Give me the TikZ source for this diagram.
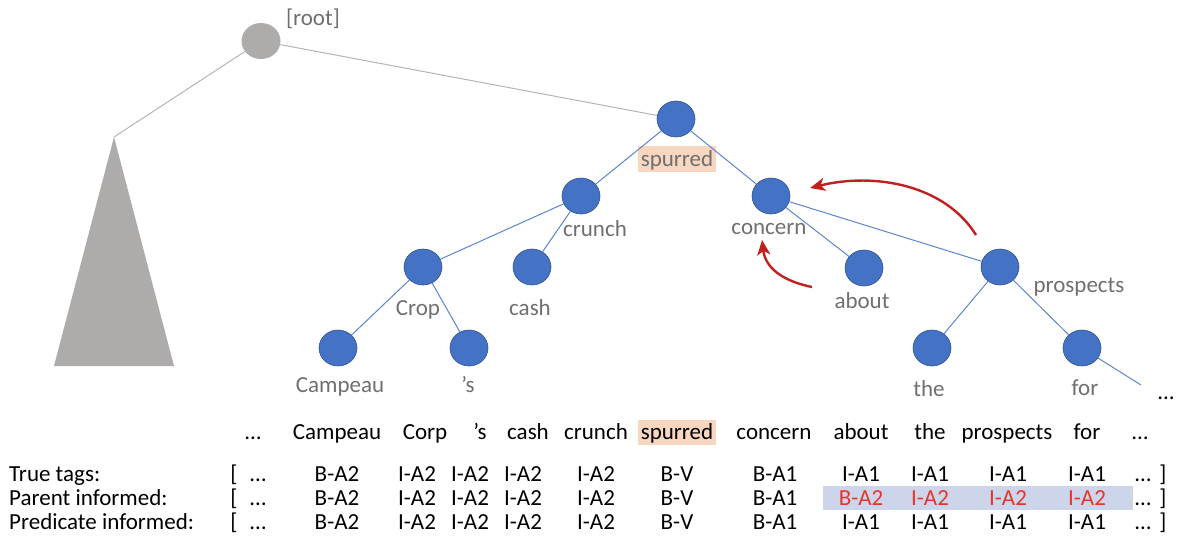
\documentclass[tikz,border=0pt]{standalone}
\usepackage{fontspec}
\setmainfont{Carlito}
\usetikzlibrary{arrows.meta,shapes.geometric}
\newcommand{\myell}{…}
\definecolor{nodeblue}{HTML}{4472C4}
\definecolor{nodeedge}{HTML}{2F528F}
\definecolor{edgeblue}{HTML}{5B85D0}
\definecolor{treegrey}{HTML}{AEABAB}
\definecolor{linegrey}{HTML}{B4B4B4}
\definecolor{labelgrey}{HTML}{6F6F6F}
\definecolor{peach}{HTML}{F8D6C0}
\definecolor{lav}{HTML}{CDD5EA}
\definecolor{arrowred}{HTML}{C0201E}
\definecolor{tagred}{HTML}{E8342C}
\tikzset{
  tnode/.style={ellipse,fill=nodeblue,draw=nodeedge,line width=0.6pt,minimum width=38pt,minimum height=36pt,inner sep=0pt},
  rootnode/.style={ellipse,fill=treegrey,minimum width=39pt,minimum height=36pt,inner sep=0pt},
  tedge/.style={draw=edgeblue,line width=1pt},
  gedge/.style={draw=linegrey,line width=1pt},
  tlabel/.style={text=labelgrey,font=\fontsize{23}{26}\selectfont,inner sep=0pt,text height=19pt,text depth=4pt},
  cell/.style={text=black,font=\fontsize{23}{26}\selectfont,inner sep=0pt,text height=19pt,text depth=4pt},
  redcell/.style={cell,text=tagred},
  redarrow/.style={draw=arrowred,line width=2.4pt,-{Stealth[length=15pt,width=13pt,inset=4pt]}},
}
\begin{document}
\begin{tikzpicture}[x=1pt,y=-1pt]
\useasboundingbox (0,0) rectangle (1178,541);
% highlights
\fill[peach] (638,146) rectangle (716,172);
\fill[peach] (638,420) rectangle (716,445);
\fill[lav] (823,486) rectangle (1133,510);
% left subtree
\fill[treegrey] (114,137) coordinate (apex) -- (174,366) -- (54,366) -- cycle;
% nodes
\node[rootnode] (root) at (261,41) {};
\node[tnode] (spurred) at (676,119) {};
\node[tnode] (crunch) at (581,196) {};
\node[tnode] (concern) at (771,196) {};
\node[tnode] (crop) at (423,267) {};
\node[tnode] (cash) at (532,267) {};
\node[tnode] (about) at (864,268) {};
\node[tnode] (prospects) at (1000,267) {};
\node[tnode] (campeau) at (338,348) {};
\node[tnode] (s) at (469,348) {};
\node[tnode] (the) at (932,348) {};
\node[tnode] (for) at (1082,348) {};
\coordinate (tail) at (1141,385);
% edges
\draw[gedge] (root) -- (apex);
\draw[gedge] (root) -- (spurred);
\draw[tedge] (spurred) -- (crunch);
\draw[tedge] (spurred) -- (concern);
\draw[tedge] (crunch) -- (crop);
\draw[tedge] (crunch) -- (cash);
\draw[tedge] (crop) -- (campeau);
\draw[tedge] (crop) -- (s);
\draw[tedge] (concern) -- (about);
\draw[tedge] (concern) -- (prospects);
\draw[tedge] (prospects) -- (the);
\draw[tedge] (prospects) -- (for);
\draw[tedge] (for) -- (tail);
% labels
\node[tlabel] (lroot) at (313,18) {[root]};
\node[tlabel] (lspurred) at (677,159) {spurred};
\node[tlabel] (lcrunch) at (595,229) {crunch};
\node[tlabel] (lconcern) at (769,227) {concern};
\node[tlabel] (labout) at (862,301) {about};
\node[tlabel] (lprospects) at (1079,285) {prospects};
\node[tlabel] (lcrop) at (418,308) {Crop};
\node[tlabel] (lcash) at (530,308) {cash};
\node[tlabel] (lcampeau) at (340,385) {Campeau};
\node[tlabel] (ls) at (468,385) {’s};
\node[tlabel] (lthe) at (929,389) {the};
\node[tlabel] (lfor) at (1085,388) {for};
\node[cell] (tdots) at (1166,392) {\myell};
% red arrows
\coordinate (a1s) at (976,235);
\coordinate (a1e) at (810,188);
\coordinate (a2s) at (812,287);
\coordinate (a2e) at (762,240);
\draw[redarrow] (a1s) .. controls (945,185) and (875,172) .. (a1e);
\draw[redarrow] (a2s) .. controls (778,280) and (765,265) .. (a2e);
% sentence row
\foreach \x/\w [count=\i] in {253/\myell,337/Campeau,425/Corp,480/’s,528/cash,596/crunch,677/spurred,774/concern,861/about,930/the,1007/prospects,1087/for,1140/\myell}
  \node[cell] (w\i) at (\x,432) {\w};
% row labels
\node[cell,anchor=west] (rt) at (9,474) {True tags:};
\node[cell,anchor=west] (rp) at (9,498) {Parent informed:};
\node[cell,anchor=west] (rq) at (9,522) {Predicate informed:};
\foreach \y/\r in {474/t,498/p,522/q}{
  \node[cell] (ob\r) at (234,\y) {[};
  \node[cell] (od\r) at (258,\y) {\myell};
  \node[cell] (ed\r) at (1143,\y) {\myell};
  \node[cell] (cb\r) at (1163,\y) {]};
}
\foreach \y/\r in {474/t,498/p,522/q}{
  \foreach \x/\w [count=\i] in {337/B-A2,417/I-A2,470/I-A2,523/I-A2,596/I-A2,677/B-V,775/B-A1}
    \node[cell] (\r c\i) at (\x,\y) {\w};
}
\foreach \y/\r in {474/t,522/q}{
  \foreach \x [count=\i] in {861,930,1008,1087}
    \node[cell] (\r d\i) at (\x,\y) {I-A1};
}
\foreach \x/\w [count=\i] in {861/B-A2,930/I-A2,1008/I-A2,1087/I-A2}
  \node[redcell] (pd\i) at (\x,498) {\w};
\end{tikzpicture}
\end{document}
